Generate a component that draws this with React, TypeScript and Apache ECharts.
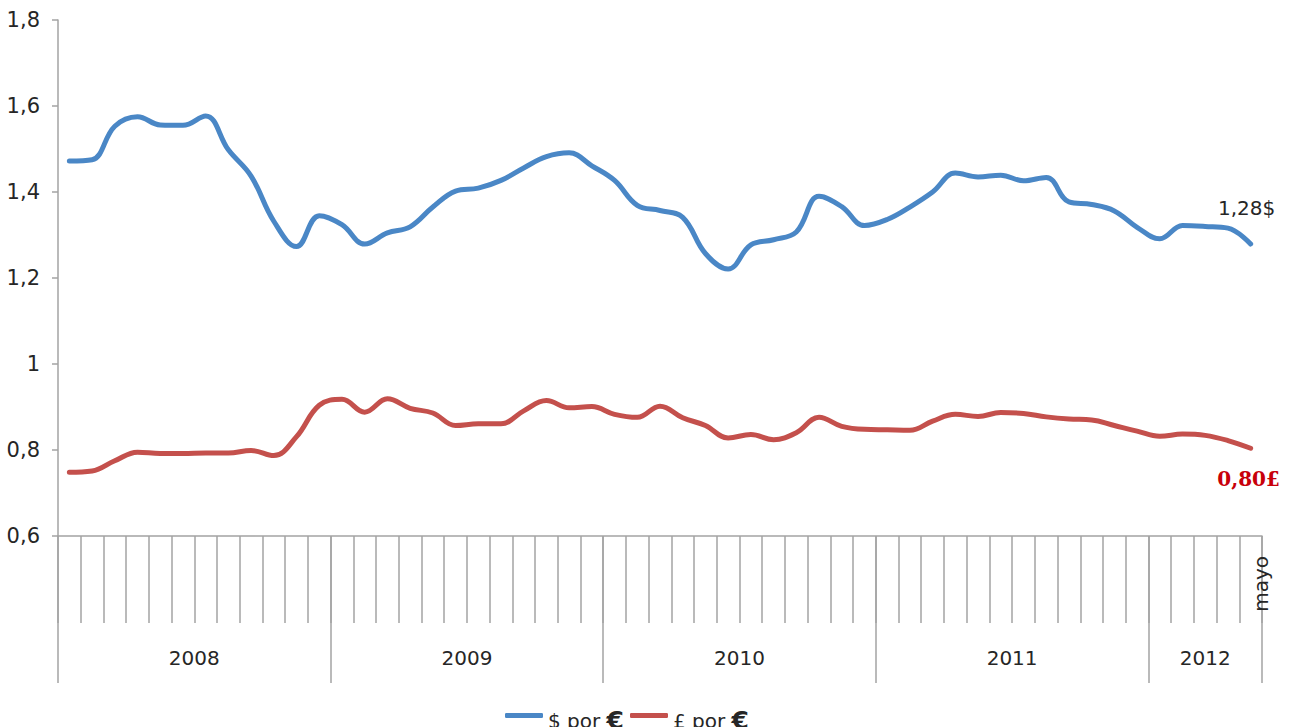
import React, { useEffect, useRef } from "react";
import * as echarts from "echarts";

const YEARS = [2008, 2009, 2010, 2011, 2012];
const MONTHS_PER_YEAR = [12, 12, 12, 12, 5];
const MONTH_NAMES = ["enero", "febrero", "marzo", "abril", "mayo", "junio", "julio", "agosto", "septiembre", "octubre", "noviembre", "diciembre"];

const USD_PER_EUR = [
  1.472, 1.475, 1.553, 1.575, 1.556, 1.555, 1.577, 1.498, 1.437, 1.332, 1.273, 1.345,
  1.324, 1.279, 1.305, 1.319, 1.365, 1.402, 1.409, 1.427, 1.456, 1.482, 1.491, 1.461,
  1.427, 1.369, 1.357, 1.341, 1.257, 1.221, 1.277, 1.289, 1.307, 1.390, 1.366, 1.322,
  1.336, 1.365, 1.400, 1.444, 1.435, 1.439, 1.426, 1.434, 1.377, 1.371, 1.356, 1.318,
  1.291, 1.322, 1.320, 1.316, 1.279,
];

const GBP_PER_EUR = [
  0.748, 0.751, 0.775, 0.795, 0.792, 0.792, 0.793, 0.793, 0.799, 0.787, 0.831, 0.904,
  0.918, 0.888, 0.919, 0.897, 0.886, 0.857, 0.861, 0.861, 0.891, 0.915, 0.898, 0.901,
  0.883, 0.876, 0.902, 0.875, 0.857, 0.828, 0.836, 0.824, 0.840, 0.876, 0.855, 0.848,
  0.847, 0.846, 0.867, 0.883, 0.878, 0.887, 0.885, 0.877, 0.872, 0.870, 0.857, 0.844,
  0.832, 0.837, 0.834, 0.822, 0.804,
];

const SERIES_NAMES = ["$ por €", "£ por €"];
const LAST_LABELS = ["1,28$", "0,80£"];
const Y_MIN = 0.6;
const Y_MAX = 1.8;
const Y_STEP = 0.2;

const FONT = "DejaVu Sans";
const AXIS_COLOR = "#a3a3a3";
const BLUE = "#4a87c6";
const RED = "#c4504c";

export default function App() {
  const ref = useRef<HTMLDivElement>(null);

  useEffect(() => {
    if (!ref.current) return;
    const chart = echarts.init(ref.current, undefined, { renderer: "svg" });

    const categories: string[] = [];
    YEARS.forEach((y, yi) => {
      for (let m = 0; m < MONTHS_PER_YEAR[yi]; m++) categories.push(`${MONTH_NAMES[m]} ${y}`);
    });
    const n = categories.length;

    // half-month grid for the year axis (boundaryGap false => 2n+1 points)
    const yearAxisData: string[] = new Array(2 * n + 1).fill("");
    const yearBoundaries = new Set<number>();
    let start = 0;
    YEARS.forEach((y, yi) => {
      const len = MONTHS_PER_YEAR[yi];
      yearBoundaries.add(2 * start);
      yearAxisData[2 * start + len] = String(y);
      start += len;
    });
    yearBoundaries.add(2 * start);

    chart.setOption({
      animation: false,
      backgroundColor: "#ffffff",
      grid: { left: 58, right: 29, top: 20, bottom: 191, containLabel: false },
      legend: {
        left: 500,
        top: 703,
        itemWidth: 38,
        itemHeight: 5,
        itemGap: 6,
        icon: "roundRect",
        data: SERIES_NAMES,
        formatter: (name: string) => `{t|${name.slice(0, -1)}}{e|€}`,
        textStyle: {
          padding: [10, 0, 0, 0],
          rich: {
            t: { fontSize: 20, fontFamily: FONT, color: "#262626" },
            e: { fontSize: 25, fontWeight: "bold", fontFamily: FONT, color: "#262626" },
          },
        },
      },
      xAxis: [
        {
          type: "category",
          data: categories,
          boundaryGap: true,
          position: "bottom",
          axisLine: { show: true, onZero: false, lineStyle: { color: AXIS_COLOR, width: 1.5 } },
          axisTick: { show: true, interval: 0, length: 87, lineStyle: { color: AXIS_COLOR, width: 1.5 } },
          axisLabel: {
            interval: (i: number) => i === n - 1,
            formatter: (v: string) => v.split(" ")[0],
            rotate: 90,
            margin: 20,
            verticalAlign: "top",
            fontSize: 20,
            fontFamily: FONT,
            color: "#262626",
          },
          splitLine: { show: false },
        },
        {
          type: "category",
          data: yearAxisData,
          boundaryGap: false,
          position: "bottom",
          offset: 0,
          axisLine: { show: false, onZero: false },
          axisTick: {
            show: true,
            interval: (i: number) => yearBoundaries.has(i),
            length: 147,
            lineStyle: { color: AXIS_COLOR, width: 1.5 },
          },
          axisLabel: {
            interval: 0,
            margin: 112,
            fontSize: 20,
            fontFamily: FONT,
            color: "#262626",
          },
          splitLine: { show: false },
        },
      ],
      yAxis: {
        type: "value",
        min: Y_MIN,
        max: Y_MAX,
        interval: Y_STEP,
        axisLine: { show: true, lineStyle: { color: AXIS_COLOR, width: 1.5 } },
        axisTick: { show: true, length: 6, lineStyle: { color: AXIS_COLOR, width: 1.5 } },
        splitLine: { show: false },
        axisLabel: {
          margin: 18,
          fontSize: 21,
          fontFamily: FONT,
          color: "#262626",
          formatter: (v: number) => (Math.abs(v - 1) < 1e-9 ? "1" : v.toFixed(1).replace(".", ",")),
        },
      },
      series: [
        {
          name: SERIES_NAMES[0],
          type: "line",
          data: USD_PER_EUR,
          smooth: 0.4,
          symbol: "none",
          showSymbol: false,
          lineStyle: { color: BLUE, width: 5, cap: "round", join: "round" },
          itemStyle: { color: BLUE },
          endLabel: {
            show: true,
            formatter: LAST_LABELS[0],
            distance: 0,
            align: "center",
            verticalAlign: "bottom",
            offset: [-4, -26],
            color: "#262626",
            fontSize: 20,
            fontFamily: FONT,
          },
        },
        {
          name: SERIES_NAMES[1],
          type: "line",
          data: GBP_PER_EUR,
          smooth: 0.4,
          symbol: "none",
          showSymbol: false,
          lineStyle: { color: RED, width: 5, cap: "round", join: "round" },
          itemStyle: { color: RED },
          endLabel: {
            show: true,
            formatter: LAST_LABELS[1],
            distance: 0,
            align: "center",
            verticalAlign: "top",
            offset: [-2, 21],
            color: "#c8000a",
            fontSize: 20,
            fontWeight: "bold",
            fontFamily: "DejaVu Serif",
          },
        },
      ],
    });

    return () => chart.dispose();
  }, []);

  return <div ref={ref} style={{ position: "fixed", left: 0, top: 0, width: 1291, height: 727 }} />;
}
